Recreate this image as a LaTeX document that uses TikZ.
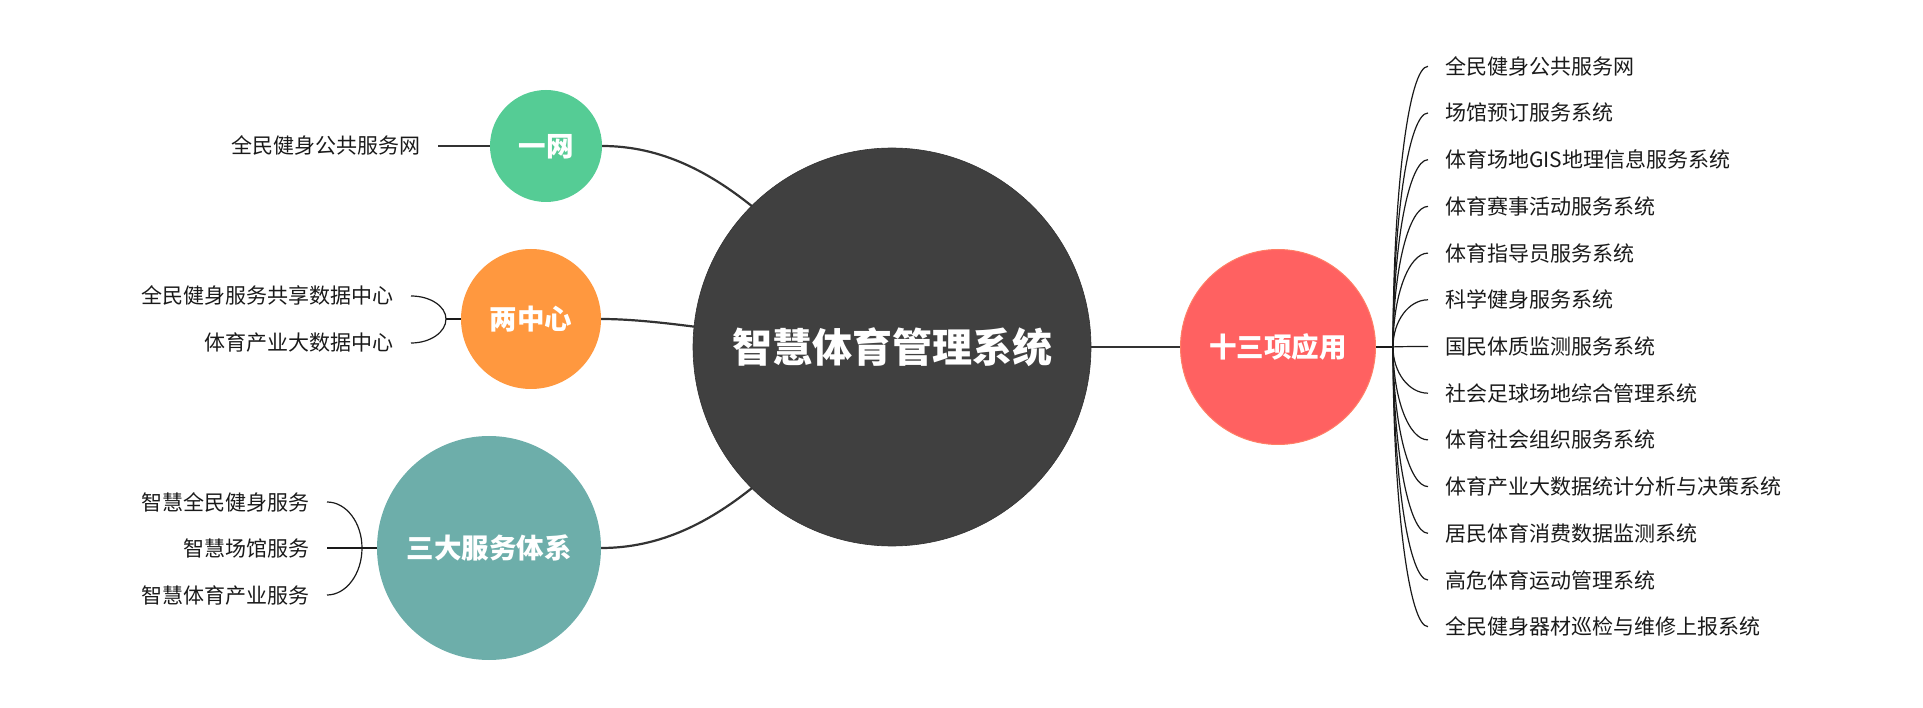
\documentclass[tikz,border=0pt]{standalone}
\usepackage{fontspec}
\setmainfont{Noto Sans CJK SC}
\usetikzlibrary{backgrounds,calc}
\definecolor{cdark}{HTML}{404040}
\definecolor{cgreen}{HTML}{55CC95}
\definecolor{corange}{HTML}{FF983F}
\definecolor{cteal}{HTML}{6DAEAA}
\definecolor{cred}{HTML}{FF6161}
\definecolor{credb}{HTML}{FF7F66}
\definecolor{cline}{HTML}{333333}
\definecolor{ctext}{HTML}{1A1A1A}
\tikzset{
  topic/.style={circle, inner sep=0pt, text=white,
    font=\bfseries\fontsize{27.5}{30}\selectfont, text height=24.2pt, text depth=3.3pt},
  leaf/.style={font=\fontsize{21}{24}\selectfont, text=ctext, inner xsep=17pt, inner ysep=0pt,
    text height=18.5pt, text depth=2.5pt},
  mainline/.style={draw=cline, line width=2.2pt},
  fan/.style={draw=ctext, line width=1.2pt},
}
\begin{document}
\begin{tikzpicture}[x=1pt,y=-1pt]
\useasboundingbox (0,0) rectangle (1923,708);
% central
\node[circle, fill=cdark, draw=black!80, line width=0.6pt, minimum size=398pt, inner sep=0pt,
  text=white, font=\bfseries\fontsize{40}{44}\selectfont, text height=35.2pt, text depth=4.8pt]
  (c) at (892,347) {智慧体育管理系统};
% left topics
\node[topic, fill=cgreen, minimum size=112pt] (a) at (546,146) {一网};
\node[topic, fill=corange, minimum size=140pt] (b) at (531,319) {两中心};
\node[topic, fill=cteal, minimum size=224pt] (d) at (489,548) {三大服务体系};
% right topic
\node[topic, fill=cred, draw=credb, line width=1pt, minimum size=195pt] (e) at (1278,347) {十三项应用};

% connectors behind the central node
\begin{scope}[on background layer]
\draw[mainline] (a.east) .. controls (720,146) and (800,250) .. (c.center);
\draw[mainline] (b.east) .. controls (680,319) and (800,347) .. (c.center);
\draw[mainline] (d.east) .. controls (720,548) and (800,445) .. (c.center);
\draw[mainline] (c.center) -- (e.west);
\end{scope}

% 一网 leaf
\node[leaf, anchor=east] (a1) at (438,146) {全民健身公共服务网};
\draw[draw=cline, line width=1.4pt] (a1.east) -- (a.west);

% 两中心 leaves
\coordinate (bj) at (446,319);
\node[leaf, anchor=east] (b1) at (411,296) {全民健身服务共享数据中心};
\node[leaf, anchor=east] (b2) at (411,343) {体育产业大数据中心};
\draw[fan] (bj) -- (b.west);
\draw[fan] (b1.east) .. controls (430.25,296) and (446,306.35) .. (bj);
\draw[fan] (b2.east) .. controls (430.25,343) and (446,332.2) .. (bj);

% 三大服务体系 leaves
\coordinate (dj) at (362,548);
\node[leaf, anchor=east] (d1) at (327,502) {智慧全民健身服务};
\node[leaf, anchor=east] (d2) at (327,548) {智慧场馆服务};
\node[leaf, anchor=east] (d3) at (327,595) {智慧体育产业服务};
\draw[fan] (d2.east) -- (d.west);
\draw[fan] (d1.east) .. controls (346.25,502) and (362,522.7) .. (dj);
\draw[fan] (d3.east) .. controls (346.25,595) and (362,573.85) .. (dj);

% 十三项应用 leaves
\coordinate (ej) at (1393,347);
\draw[fan] (e.east) -- (ej);
\foreach \t [count=\i from 0] in {全民健身公共服务网,场馆预订服务系统,体育场地GIS地理信息服务系统,体育赛事活动服务系统,体育指导员服务系统,科学健身服务系统,国民体质监测服务系统,社会足球场地综合管理系统,体育社会组织服务系统,体育产业大数据统计分析与决策系统,居民体育消费数据监测系统,高危体育运动管理系统,全民健身器材巡检与维修上报系统}{
  \pgfmathsetmacro\yy{346.5+(\i-6)*46.7}
  \pgfmathsetmacro\yc{347+0.55*(\yy-347)}
  \node[leaf, anchor=west] (r\i) at (1428,\yy) {\t};
  \draw[fan] (ej) .. controls (1393,\yc) and (1408.75,\yy) .. (r\i.west);
}
\end{tikzpicture}
\end{document}
